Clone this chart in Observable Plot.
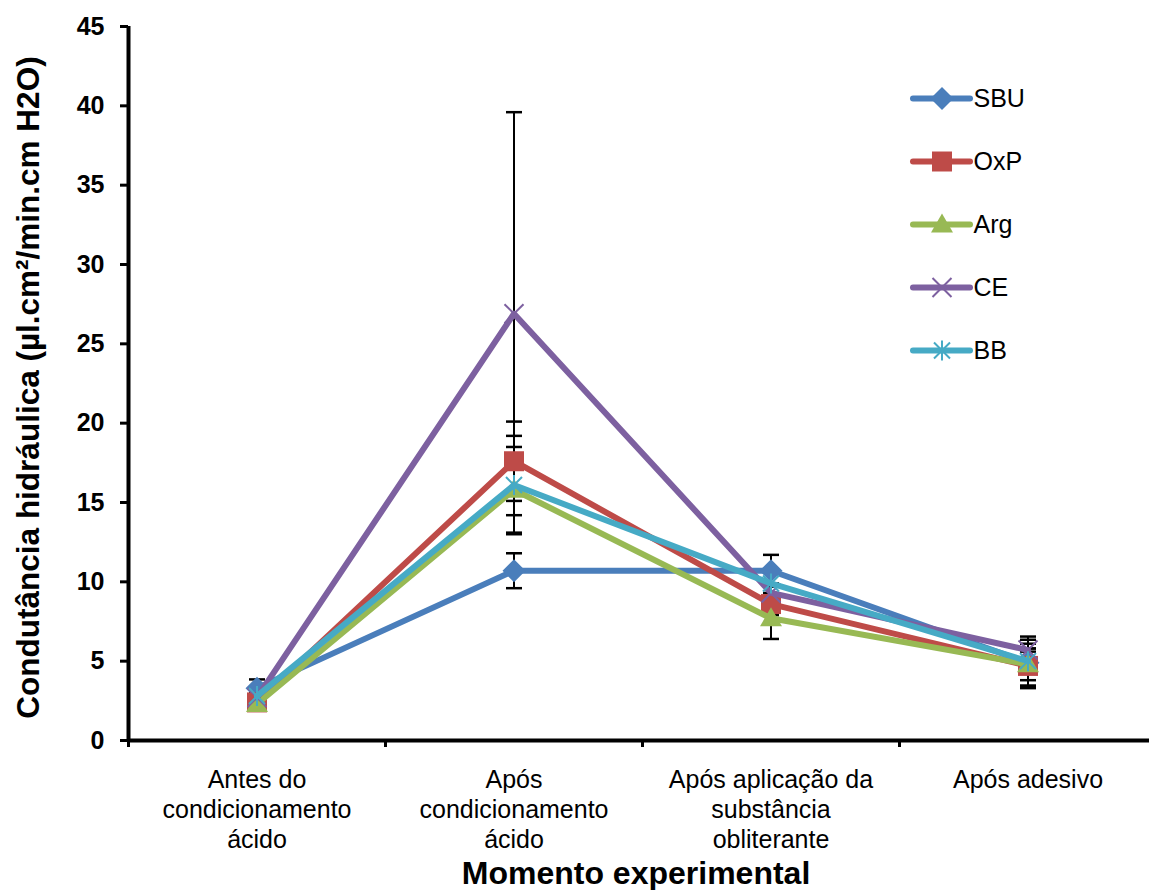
<!DOCTYPE html>
<html>
<head>
<meta charset="utf-8">
<script src="https://cdn.jsdelivr.net/npm/d3@7"></script>
<script src="https://cdn.jsdelivr.net/npm/@observablehq/plot@0.6"></script>
<style>
  html, body { margin: 0; padding: 0; background: #fff; }
  #wrap { position: relative; width: 1149px; height: 890px; font-family: "Liberation Sans", Arial, sans-serif; }
  #legend { position: absolute; left: 900px; top: 60px; }
  svg { font-family: "Liberation Sans", Arial, sans-serif; overflow: hidden; }
  g[aria-label="y-axis tick"] path, g[aria-label="x-axis tick"] path { stroke-width: 3px; }
</style>
</head>
<body>
<div id="wrap"><div id="chart"></div><div id="legend"></div></div>
<script>
// ---- data ----
const categories = [
  "Antes do\ncondicionamento\nácido",
  "Após\ncondicionamento\nácido",
  "Após aplicação da\nsubstância\nobliterante",
  "Após adesivo"
];
const seriesNames = ["SBU", "OxP", "Arg", "CE", "BB"];
const seriesColors = ["#4a7ebb", "#be4b48", "#98b954", "#7d60a0", "#46aac5"];

const sbuValues = [3.3, 10.7, 10.7, 4.9];
const oxpValues = [2.4, 17.6, 8.6, 4.7];
const argValues = [2.3, 15.8, 7.7, 4.8];
const ceValues  = [2.7, 26.9, 9.3, 5.7];
const bbValues  = [2.8, 16.1, 9.9, 5.0];

const sbuErrors = [0.55, 1.1, 1.0, 1.45];
const oxpErrors = [0.3, 2.5, 0.7, 1.4];
const argErrors = [0.3, 2.7, 1.3, 1.0];
const ceErrors  = [0.3, 12.7, 0.6, 0.1];
const bbErrors  = [0.3, 3.1, 0.8, 1.55];

const yTicks = [0, 5, 10, 15, 20, 25, 30, 35, 40, 45];
const xTitle = "Momento experimental";
const yTitle = "Condutância hidráulica (µl.cm²/min.cm H2O)";

// ---- build table ----
const valueLists = [sbuValues, oxpValues, argValues, ceValues, bbValues];
const errorLists = [sbuErrors, oxpErrors, argErrors, ceErrors, bbErrors];
const rows = [];
seriesNames.forEach((s, k) => {
  valueLists[k].forEach((v, i) => rows.push({series: s, k, i, value: v, err: errorLists[k][i]}));
});
const capRows = rows.flatMap(d => [{i: d.i, y: d.value + d.err}, {i: d.i, y: d.value - d.err}]);

// ---- custom symbols (pixel sized) ----
const capSym = {draw(c) { c.moveTo(-8, 0); c.lineTo(8, 0); }};
const diamondSym = {draw(c) { c.moveTo(0, -11.5); c.lineTo(11.5, 0); c.lineTo(0, 11.5); c.lineTo(-11.5, 0); c.closePath(); }};
const squareSym = {draw(c) { c.rect(-10, -10, 20, 20); }};
const triangleSym = {draw(c) { c.moveTo(0, -11); c.lineTo(11, 8); c.lineTo(-11, 8); c.closePath(); }};
const timesSym = {draw(c) { c.moveTo(-9.5, -9.5); c.lineTo(9.5, 9.5); c.moveTo(9.5, -9.5); c.lineTo(-9.5, 9.5); }};
const starSym = {draw(c) { c.moveTo(-8, -8); c.lineTo(8, 8); c.moveTo(8, -8); c.lineTo(-8, 8); c.moveTo(0, -10); c.lineTo(0, 10); }};
const symbols = [diamondSym, squareSym, triangleSym, timesSym, starSym];
const filled = [true, true, true, false, false];

function markerMarks(data, k, x, y) {
  return Plot.dot(data, {
    x, y, r: 5, symbol: () => symbols[k],
    fill: filled[k] ? seriesColors[k] : "none",
    stroke: seriesColors[k], strokeWidth: filled[k] ? 0 : 2
  });
}

const seriesMarks = seriesNames.flatMap((s, k) => {
  const data = rows.filter(d => d.k === k);
  return [
    Plot.line(data, {x: "i", y: "value", stroke: seriesColors[k], strokeWidth: 6, strokeLinejoin: "round", strokeLinecap: "round"}),
    markerMarks(data, k, "i", "value")
  ];
});

const chart = Plot.plot({
  width: 1149,
  height: 890,
  marginTop: 26,
  marginLeft: 128,
  marginRight: 0,
  marginBottom: 150,
  x: {domain: [-0.5, categories.length - 0.5], range: [128, 128 + 257 * categories.length]},
  y: {domain: [0, 45], range: [740, 26]},
  style: {fontFamily: "Liberation Sans, Arial, sans-serif", color: "#000", background: "#fff"},
  marks: [
    Plot.axisY({ticks: yTicks, tickSize: 8, tickPadding: 16, fontSize: 25, fontWeight: "bold", label: null}),
    Plot.axisX({ticks: d3.range(-0.5, categories.length - 0.5, 1), tickFormat: () => "", tickSize: 7, label: null}),
    Plot.ruleX([-0.5], {strokeWidth: 4}),
    Plot.ruleY([0], {strokeWidth: 4}),
    Plot.text(categories.map((c, i) => ({c, i})), {x: "i", y: () => 0, text: "c", dy: 26, lineAnchor: "top", fontSize: 25, lineHeight: 1.2}),
    Plot.text([xTitle], {frameAnchor: "bottom", dx: -3, dy: 143, lineAnchor: "bottom", fontSize: 32, fontWeight: "bold"}),
    Plot.text([yTitle], {frameAnchor: "left", textAnchor: "middle", dx: -100, dy: 4, rotate: -90, fontSize: 31.5, fontWeight: "bold"}),
    // error bars
    Plot.ruleX(rows, {x: "i", y1: d => d.value - d.err, y2: d => d.value + d.err, stroke: "black", strokeWidth: 2}),
    Plot.dot(capRows, {x: "i", y: "y", r: 5, symbol: () => capSym, stroke: "black", strokeWidth: 2.5, fill: "none"}),
    ...seriesMarks
  ]
});
document.getElementById("chart").appendChild(chart);

// ---- legend ----
const legendRows = seriesNames.map((s, k) => ({s, k}));
const legend = Plot.plot({
  width: 160, height: 330,
  margin: 0,
  x: {domain: [0, 1], range: [13, 70], axis: null},
  y: {domain: seriesNames, type: "point", padding: 0, range: [38, 38 + 63 * 4], axis: null},
  marks: [
    ...legendRows.map(d => Plot.ruleY([d.s], {x1: 0, x2: 1, stroke: seriesColors[d.k], strokeWidth: 6, strokeLinecap: "round"})),
    ...legendRows.map(d => markerMarks([d], d.k, () => 0.5, "s")),
    Plot.text(legendRows, {x: () => 1, y: "s", text: "s", dx: 3, textAnchor: "start", fontSize: 25, fontFamily: "Liberation Sans, Arial, sans-serif", fill: "#000"})
  ]
});
document.getElementById("legend").appendChild(legend);
</script>
</body>
</html>
